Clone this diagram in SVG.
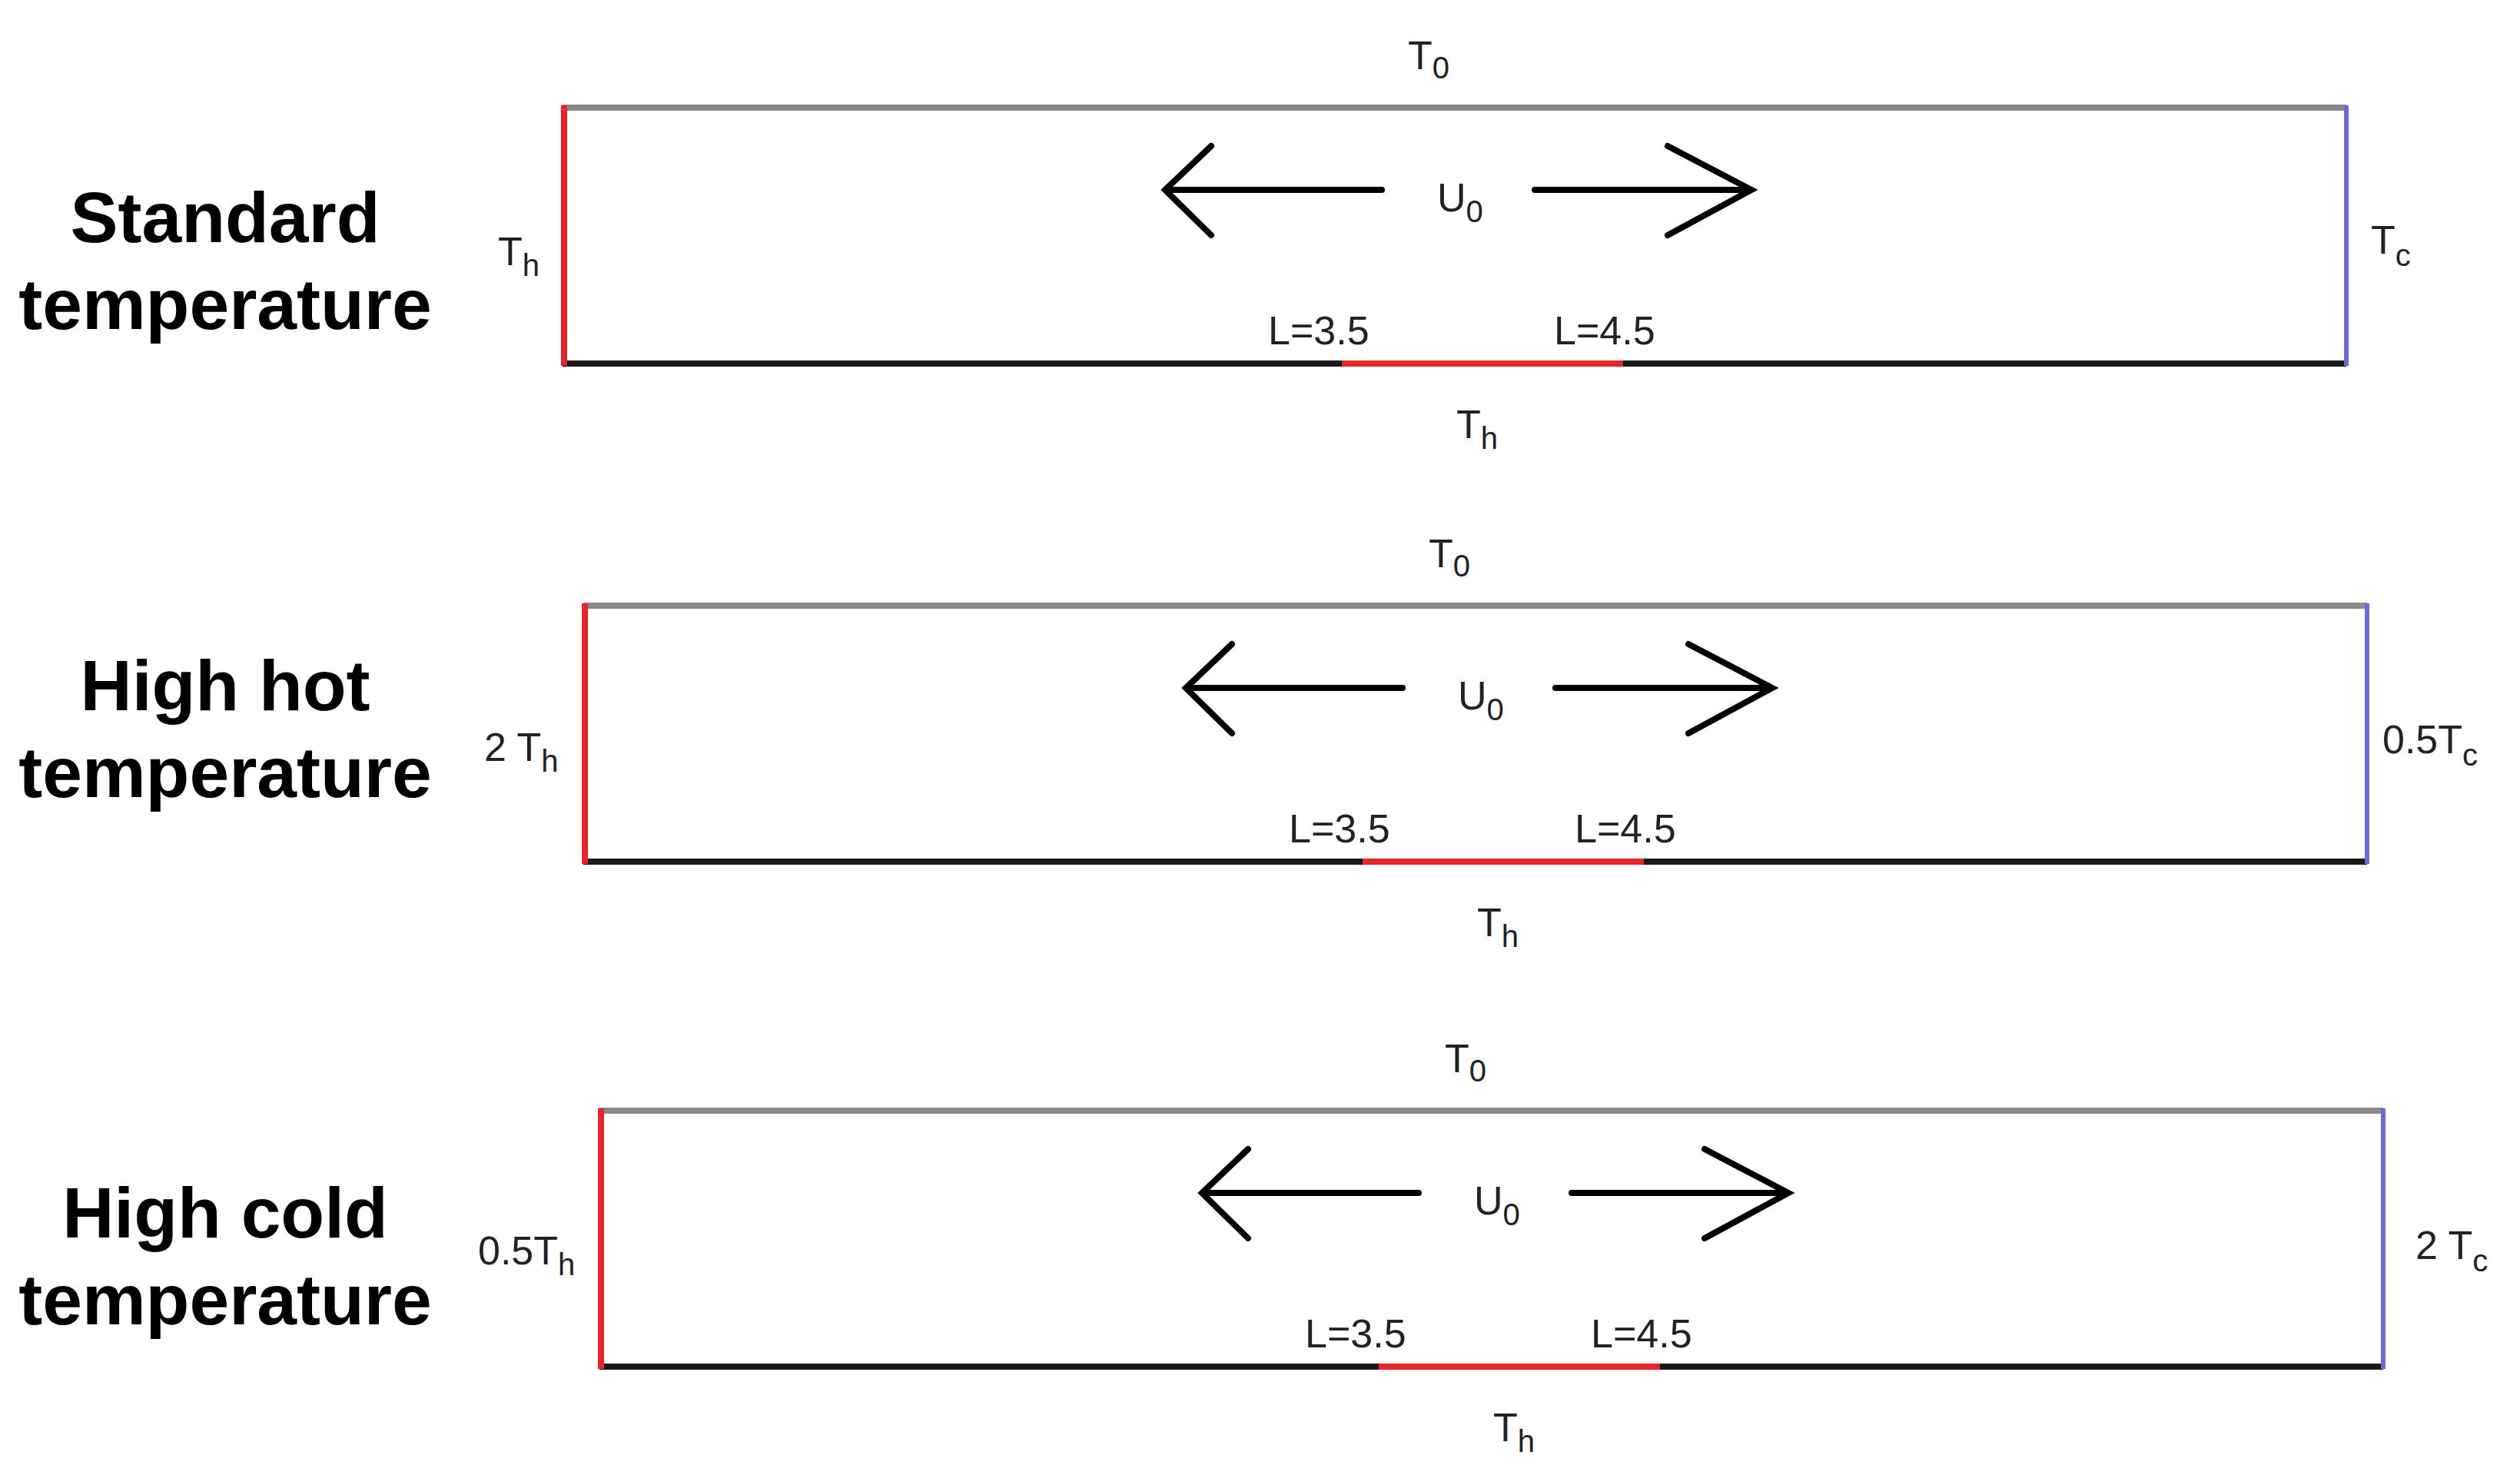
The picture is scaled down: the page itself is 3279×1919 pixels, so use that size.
<svg xmlns="http://www.w3.org/2000/svg" width="3279" height="1919" viewBox="0 0 3279 1919">
<style>
.title{font-family:"Liberation Sans",Arial,sans-serif;font-weight:bold;font-size:93px;fill:#000;text-anchor:middle}
.lbl{font-family:"Liberation Sans",Arial,sans-serif;font-size:52px;fill:#222}
.sub{font-size:40px}
.top{stroke:#8a8a8a;stroke-width:8}
.bot{stroke:#1a1a1a;stroke-width:8}
.hot{stroke:#e8242b;stroke-width:8}
.cold{stroke:#6a6ad8;stroke-width:6}
.arr{stroke:#000;stroke-width:8;fill:none;stroke-linecap:round}
</style>
<defs>
<g id="panel">
<line class="top" x1="732" y1="140" x2="3053" y2="140"/>
<line class="bot" x1="732" y1="473" x2="3053" y2="473"/>
<line class="hot" x1="1746" y1="473" x2="2112" y2="473"/>
<line class="hot" x1="734" y1="137" x2="734" y2="476"/>
<line class="cold" x1="3053" y1="137" x2="3053" y2="476"/>
<g id="arrows">
<line class="arr" x1="1798" y1="247" x2="1520" y2="247"/>
<polyline class="arr" points="1576,190 1516,247 1576,306"/>
<line class="arr" x1="1997" y1="247" x2="2275" y2="247"/>
<polyline class="arr" points="2170,190 2279,247 2170,306"/>
</g>
<text class="lbl" x="1870" y="275">U<tspan class="sub" dy="14">0</tspan></text>
<text class="lbl" x="1832" y="90">T<tspan class="sub" dy="12">0</tspan></text>
<text class="lbl" x="1650" y="448">L=3.5</text>
<text class="lbl" x="2022" y="448">L=4.5</text>
<text class="lbl" x="1895" y="570">T<tspan class="sub" dy="14">h</tspan></text>
</g>
</defs>
<g id="panel1">
<use href="#panel"/>
<text class="title" x="293" y="315">Standard</text>
<text class="title" x="293" y="428">temperature</text>
<text class="lbl" x="648" y="345">T<tspan class="sub" dy="14">h</tspan></text>
<text class="lbl" x="3085" y="330">T<tspan class="sub" dy="16">c</tspan></text>
</g>
<g id="panel2">
<use href="#panel" transform="translate(27,648)"/>
<text class="title" x="293" y="924">High hot</text>
<text class="title" x="293" y="1037">temperature</text>
<text class="lbl" x="630" y="990">2 T<tspan class="sub" dy="14">h</tspan></text>
<text class="lbl" x="3100" y="980">0.5T<tspan class="sub" dy="16">c</tspan></text>
</g>
<g id="panel3">
<use href="#panel" transform="translate(48,1305)"/>
<text class="title" x="293" y="1610">High cold</text>
<text class="title" x="293" y="1723">temperature</text>
<text class="lbl" x="622" y="1645">0.5T<tspan class="sub" dy="14">h</tspan></text>
<text class="lbl" x="3143" y="1638">2 T<tspan class="sub" dy="16">c</tspan></text>
</g>
</svg>
